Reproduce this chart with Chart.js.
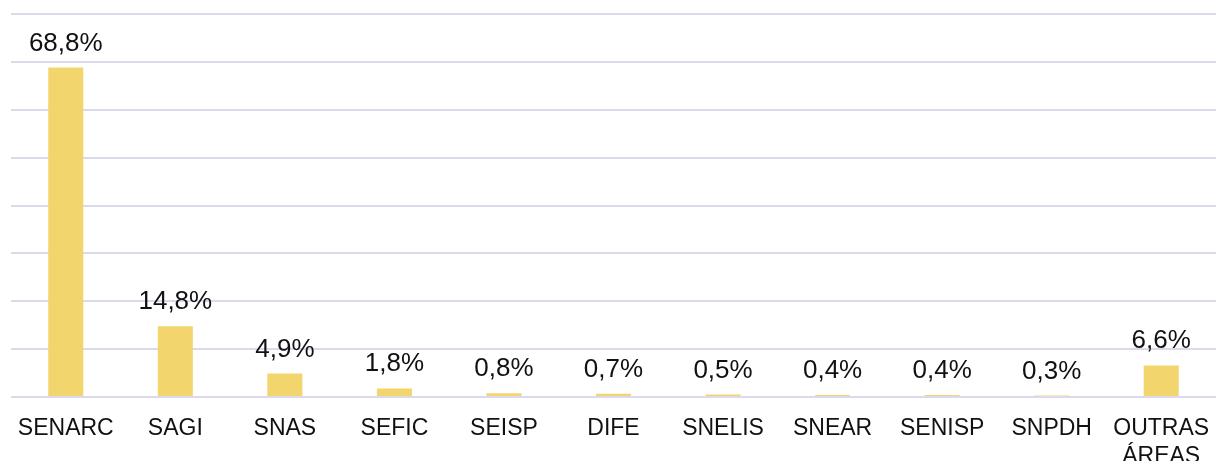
<!DOCTYPE html>
<html>
<head>
<meta charset="utf-8">
<script src="https://cdn.jsdelivr.net/npm/chart.js@4"></script>
<style>
  html, body { margin: 0; padding: 0; background: #fff; }
  #wrap { width: 1216px; height: 461px; position: relative; }
</style>
</head>
<body>
<div id="wrap"><canvas id="c"></canvas></div>
<script>
const categories = ['SENARC', 'SAGI', 'SNAS', 'SEFIC', 'SEISP', 'DIFE', 'SNELIS', 'SNEAR', 'SENISP', 'SNPDH', ['OUTRAS', 'ÁREAS']];
const values = [68.8, 14.8, 4.9, 1.8, 0.8, 0.7, 0.5, 0.4, 0.4, 0.3, 6.6];
const valueLabels = ['68,8%', '14,8%', '4,9%', '1,8%', '0,8%', '0,7%', '0,5%', '0,4%', '0,4%', '0,3%', '6,6%'];
const yTicks = [0, 10, 20, 30, 40, 50, 60, 70, 80];

const FONT = '"Liberation Sans", Arial, Helvetica, sans-serif';

const labelPlugin = {
  id: 'valueLabels',
  afterDatasetsDraw(chart) {
    const ctx = chart.ctx;
    const meta = chart.getDatasetMeta(0);
    ctx.save();
    ctx.font = '26px ' + FONT;
    ctx.fillStyle = '#111';
    ctx.textAlign = 'center';
    ctx.textBaseline = 'alphabetic';
    meta.data.forEach((bar, i) => {
      ctx.fillText(valueLabels[i], bar.x, bar.y - 17);
    });
    ctx.restore();
  }
};

new Chart(document.getElementById('c'), {
  type: 'bar',
  data: {
    labels: categories,
    datasets: [{
      data: values,
      backgroundColor: '#F3D56E',
      borderWidth: 0,
      categoryPercentage: 1,
      barPercentage: 0.32
    }]
  },
  options: {
    responsive: true,
    maintainAspectRatio: false,
    animation: false,
    layout: { padding: { left: 11, right: 0, top: 14, bottom: 0 } },
    plugins: {
      legend: { display: false },
      tooltip: { enabled: false }
    },
    scales: {
      x: {
        grid: { display: false },
        border: { display: false },
        afterFit(axis) {
          axis.height = 64;
          axis.paddingLeft = 0;
          axis.paddingRight = 0;
        },
        ticks: {
          color: '#111',
          font: { family: FONT, size: 23 },
          padding: 10,
          maxRotation: 0,
          autoSkip: false
        }
      },
      y: {
        min: 0,
        max: 80,
        afterBuildTicks(axis) { axis.ticks = yTicks.map(v => ({ value: v })); },
        ticks: { display: false },
        border: { display: false },
        grid: { color: '#DCD9EE', lineWidth: 2, drawTicks: false }
      }
    }
  },
  plugins: [labelPlugin]
});
</script>
</body>
</html>
